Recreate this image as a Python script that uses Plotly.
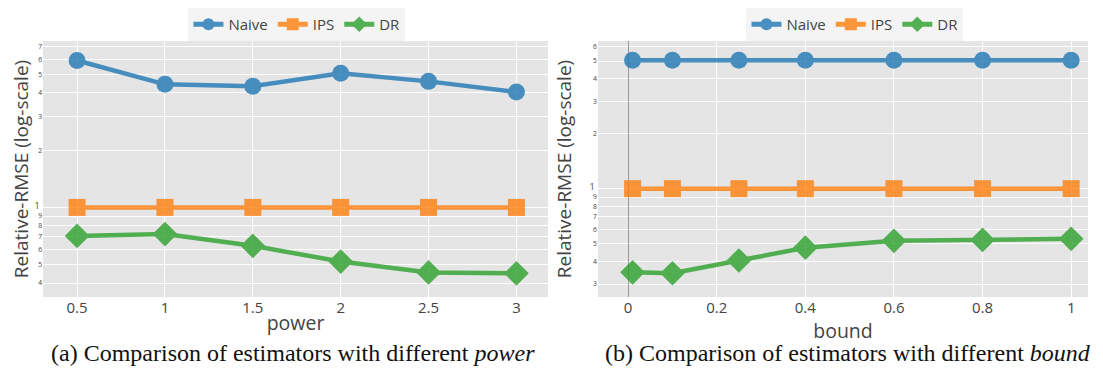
import math
import plotly.graph_objects as go
from plotly.subplots import make_subplots

power = [0.5, 1, 1.5, 2, 2.5, 3]
naive_power = [5.92, 4.44, 4.34, 5.07, 4.6, 4.04]
ips_power = [1.0, 1.0, 1.0, 1.0, 1.0, 1.0]
dr_power = [0.708, 0.724, 0.628, 0.519, 0.455, 0.45]

bound = [0.01, 0.1, 0.25, 0.4, 0.6, 0.8, 1]
naive_bound = [5.05, 5.05, 5.05, 5.05, 5.05, 5.05, 5.05]
ips_bound = [1.0, 1.0, 1.0, 1.0, 1.0, 1.0, 1.0]
dr_bound = [0.348, 0.344, 0.404, 0.475, 0.518, 0.524, 0.531]

series = ["Naive", "IPS", "DR"]
colors = ["#1f77b4", "#ff7f0e", "#2ca02c"]
symbols = ["circle", "square", "diamond"]
msizes = [17, 17, 19]

captions = ["(a) Comparison of estimators with different <i>power</i>",
            "(b) Comparison of estimators with different <i>bound</i>"]

fig = make_subplots(rows=1, cols=2)

for col, (x, ys, leg) in enumerate([
        (power, [naive_power, ips_power, dr_power], "legend"),
        (bound, [naive_bound, ips_bound, dr_bound], "legend2")], start=1):
    for name, y, c, s, ms in zip(series, ys, colors, symbols, msizes):
        fig.add_trace(go.Scatter(
            x=x, y=y, name=name, mode="lines+markers",
            line=dict(color=c, width=4.5),
            marker=dict(color=c, symbol=s, size=ms),
            opacity=0.8, legend=leg), row=1, col=col)

fig.update_xaxes(gridcolor="white", showline=False, ticks="", automargin=False,
                 tickfont=dict(family="Open Sans", size=15, color="#444"),
                 title_font=dict(family="Open Sans", size=19.5, color="#444"),
                 title_standoff=0,
                 zeroline=True, zerolinecolor="#999", zerolinewidth=1)
fig.update_xaxes(title_text="power", range=[0.306, 3.18], dtick=0.5,
                 domain=[0, 0.4833], row=1, col=1)
fig.update_xaxes(title_text="bound", range=[-0.068, 1.038], dtick=0.2,
                 domain=[0.5311, 1], row=1, col=2)

fig.update_yaxes(type="log", dtick="D1", gridcolor="white", ticks="", automargin=False,
                 tickfont=dict(family="Open Sans", size=9, color="#444"),
                 title_text="Relative-RMSE (log-scale)",
                 title_font=dict(family="Open Sans", size=19, color="#444"),
                 title_standoff=12)
fig.update_yaxes(range=[math.log10(0.338), math.log10(7.5)], row=1, col=1)
fig.update_yaxes(range=[math.log10(0.255), math.log10(6.44)], row=1, col=2)

leg_common = dict(orientation="h", xanchor="center", yanchor="top", y=1.0,
                  yref="container", itemsizing="constant",
                  bgcolor="#f4f4f4", font=dict(family="Open Sans", size=15, color="#444"),
                  itemwidth=30, tracegroupgap=0)
fig.update_layout(
    legend=dict(x=0.243, **leg_common),
    legend2=dict(x=0.777, **leg_common),
    plot_bgcolor="#e5e5e5", paper_bgcolor="white",
    width=1095, height=371,
    margin=dict(l=35, r=15, t=29, b=82),
)

for xc, txt in zip([0.2397, 0.770], captions):
    fig.add_annotation(text=txt, xref="paper", yref="paper", x=xc, y=-0.218,
                       xanchor="center", yanchor="middle", showarrow=False,
                       font=dict(family="Liberation Serif", size=24, color="#111"))

fig.write_html("out.html")
